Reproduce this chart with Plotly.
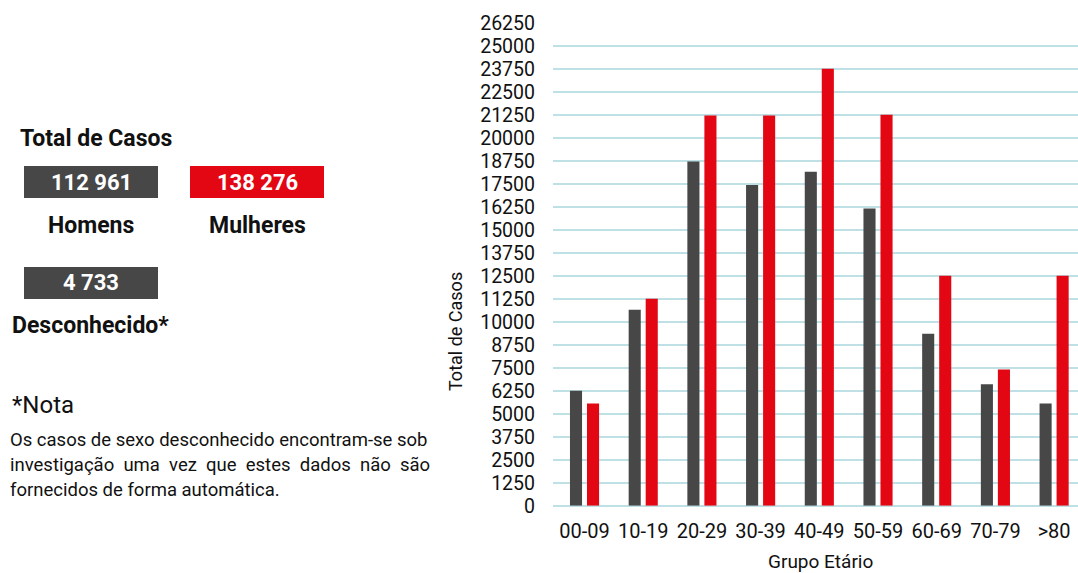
import plotly.graph_objects as go

W, H = 1078, 573

grupos = ["00-09", "10-19", "20-29", "30-39", "40-49", "50-59", "60-69", "70-79", ">80"]
homens = [6250, 10650, 18700, 17430, 18150, 16150, 9350, 6600, 5550]
mulheres = [5550, 11250, 21200, 21200, 23750, 21250, 12500, 7400, 12500]
yticks = [0, 1250, 2500, 3750, 5000, 6250, 7500, 8750, 10000, 11250, 12500, 13750,
          15000, 16250, 17500, 18750, 20000, 21250, 22500, 23750, 25000, 26250]

total_homens = "112 961"
total_mulheres = "138 276"
total_desconhecido = "4 733"

DARK = "#474747"
RED = "#e30613"
GRID = "#bfe0e5"
FONT = "Roboto"

def px(x):
    return x / W

def py(y):
    return 1 - y / H

fig = go.Figure()
fig.add_trace(go.Bar(x=grupos, y=homens, name="Homens", marker=dict(color=DARK, line=dict(width=0))))
fig.add_trace(go.Bar(x=grupos, y=mulheres, name="Mulheres", marker=dict(color=RED, line=dict(width=0))))

shapes = []
annotations = []

def box(x0, y0, x1, y1, color, text):
    shapes.append(dict(type="rect", xref="paper", yref="paper", x0=px(x0), x1=px(x1),
                       y0=py(y1), y1=py(y0), fillcolor=color, line=dict(width=0), layer="above"))
    annotations.append(dict(xref="paper", yref="paper", x=px((x0 + x1) / 2), y=py((y0 + y1) / 2),
                            text="<b>" + text + "</b>", showarrow=False, xanchor="center", yanchor="middle",
                            font=dict(family=FONT, size=22, color="white")))

def label(x, y, text, size, bold=False, anchor="center", angle=0, color="#111111"):
    t = "<b>" + text + "</b>" if bold else text
    annotations.append(dict(xref="paper", yref="paper", x=px(x), y=py(y), text=t, showarrow=False,
                            xanchor=anchor, yanchor="middle", textangle=angle,
                            font=dict(family=FONT, size=size, color=color)))

NB = "\u00a0"
label(96, 138, "Total de Casos", 23, bold=True)
box(24, 166, 158, 198, DARK, total_homens)
box(190, 166, 324, 198, RED, total_mulheres)
label(91, 225, "Homens", 23, bold=True)
label(257, 225, "Mulheres", 23, bold=True)
box(24, 267, 158, 299, DARK, total_desconhecido)
label(90, 325, "Desconhecido*", 23, bold=True)
label(10, 405, "*Nota", 24, anchor="left")
label(8, 440, "Os casos de sexo desconhecido encontram-se sob", 18.5, anchor="left")
label(8, 465, (" " + NB).join("investigação uma vez que estes dados não são".split(" ")), 18.5, anchor="left")
label(8, 490, "fornecidos de forma automática.", 18.5, anchor="left")

label(455, 332, "Total de Casos", 18, angle=-90)
label(820, 561, "Grupo Etário", 19)

fig.update_layout(
    width=W, height=H,
    template="none",
    paper_bgcolor="white", plot_bgcolor="white",
    margin=dict(l=0, r=0, t=0, b=0),
    showlegend=False,
    barmode="group",
    bargap=0.42,
    bargroupgap=0.29,
    shapes=shapes,
    annotations=annotations,
    font=dict(family=FONT, color="#111111"),
    xaxis=dict(
        type="category",
        domain=[px(553), 1],
        range=[-0.537, 8.407],
        showgrid=False, zeroline=False, showline=False, ticks="",
        tickfont=dict(family=FONT, size=20, color="#111111"),
        ticklabelstandoff=11,
        automargin=False,
    ),
    yaxis=dict(
        domain=[py(505.7), py(22.7)],
        range=[0, 26250],
        tickmode="array", tickvals=yticks, ticktext=[str(v) for v in yticks],
        showgrid=True, gridcolor=GRID, gridwidth=2,
        zeroline=True, zerolinecolor=GRID, zerolinewidth=2,
        showline=False, ticks="",
        tickfont=dict(family=FONT, size=19.5, color="#111111"),
        ticklabelstandoff=17,
        automargin=False,
    ),
)

fig.write_html("out.html")
